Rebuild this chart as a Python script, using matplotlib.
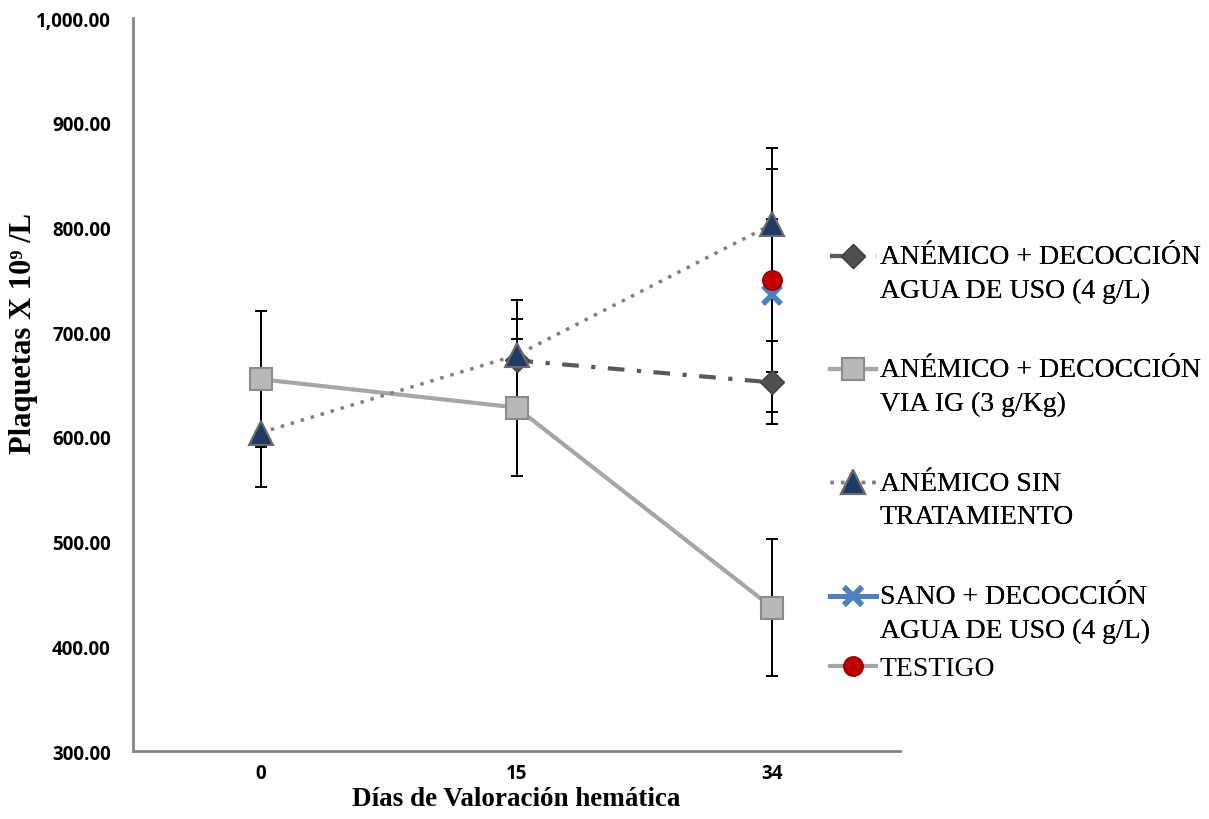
import numpy as np
import matplotlib
matplotlib.use("Agg")
import matplotlib.pyplot as plt
from matplotlib.ticker import FuncFormatter
from matplotlib.legend_handler import HandlerLine2D

# ---- data ----
days = ["0", "15", "34"]
anemico_agua = [np.nan, 673, 652]
anemico_agua_err = [0, 40, 40]
anemico_ig = [655, 628, 437]
anemico_ig_err = [65, 65, 65]
anemico_sin = [604, 678, 803]
anemico_sin_err = [52, 53, 53]
sano_agua = [np.nan, np.nan, 735]
sano_agua_err = [0, 0, 73]
testigo = [np.nan, np.nan, 750]
testigo_err = [0, 0, 126]

labels = [
    "ANÉMICO + DECOCCIÓN\nAGUA DE USO (4 g/L)",
    "ANÉMICO + DECOCCIÓN\nVIA IG (3 g/Kg)",
    "ANÉMICO SIN\nTRATAMIENTO",
    "SANO + DECOCCIÓN\nAGUA DE USO (4 g/L)",
    "TESTIGO",
]

x = np.arange(len(days))

fig = plt.figure(figsize=(12.09, 8.2), dpi=100)
ax = fig.add_axes([133/1209, 1-752/820, (900-133)/1209, (752-19)/820])

def eb(vals, errs):
    v = np.array(vals, float)
    e = np.array(errs, float)
    m = ~np.isnan(v) & (e > 0)
    ax.errorbar(x[m], v[m], yerr=e[m], fmt="none", ecolor="black",
                elinewidth=1.4, capsize=4.5, capthick=1.4, zorder=2)

for v, e in [(anemico_agua, anemico_agua_err), (anemico_ig, anemico_ig_err),
             (anemico_sin, anemico_sin_err), (sano_agua, sano_agua_err),
             (testigo, testigo_err)]:
    eb(v, e)

h1, = ax.plot(x, anemico_agua, color="#595959", lw=3, linestyle=(0, (4, 3, 1, 3)),
              marker="D", ms=12, mfc="#505050", mec="#404040", zorder=3, label=labels[0])
h2, = ax.plot(x, anemico_ig, color="#a6a6a6", lw=3, linestyle="-",
              marker="s", ms=16, mfc="#b8b8b8", mec="#8c8c8c", mew=1.5, zorder=4, label=labels[1])
h3, = ax.plot(x, anemico_sin, color="#808080", lw=2.5, linestyle=(0, (1, 2)),
              marker="^", ms=17, mfc="#1f3a64", mec="#6b6b6b", mew=1.5, zorder=5, label=labels[2])
h4, = ax.plot(x, sano_agua, color="#4f81bd", lw=3.5,
              marker="x", ms=13, mew=4, mec="#4f81bd", zorder=6, label=labels[3])
h5, = ax.plot(x, testigo, color="#a6a6a6", lw=3,
              marker="o", ms=14, mfc="#c00000", mec="#8b0000", mew=1, zorder=7, label=labels[4])

ax.set_xlim(-0.5, 2.5)
ax.set_ylim(300, 1000)
ax.set_yticks(np.arange(300, 1001, 100))
ax.yaxis.set_major_formatter(FuncFormatter(lambda v, p: f"{v:,.2f}"))
ax.set_xticks(x)
ax.set_xticklabels(days)

for s in ["top", "right"]:
    ax.spines[s].set_visible(False)
for s in ["left", "bottom"]:
    ax.spines[s].set_color("#868686")
    ax.spines[s].set_linewidth(2)
ax.tick_params(axis="both", length=0)
ax.tick_params(axis="y", pad=16)
ax.tick_params(axis="x", pad=9)
for t in ax.get_yticklabels() + ax.get_xticklabels():
    t.set_fontfamily("Open Sans")
    t.set_fontweight("bold")
    t.set_fontsize(13.5)

ax.set_xlabel("Días de Valoración hemática", fontfamily="Liberation Serif",
              fontweight="bold", fontsize=19.5)
ax.xaxis.set_label_coords(0.5, (752-800)/733)
ax.xaxis.label.set_va("center")
ax.set_ylabel("Plaquetas X 10⁹ /L", fontfamily="Liberation Serif",
              fontweight="bold", fontsize=22)
ax.yaxis.set_label_coords((24-133)/767, (752-333)/733)
ax.yaxis.label.set_va("center")


class FirstLineHandler(HandlerLine2D):
    def __init__(self, offset, **kw):
        super().__init__(**kw)
        self.offset = offset

    def create_artists(self, legend, orig_handle, xdescent, ydescent,
                       width, height, fontsize, trans):
        arts = super().create_artists(legend, orig_handle, xdescent, ydescent,
                                      width, height, fontsize, trans)
        for a in arts:
            yd = np.asarray(a.get_ydata(), float) + self.offset
            a.set_ydata(yd)
        return arts


off = 12.6
hmap = {h1: FirstLineHandler(off), h2: FirstLineHandler(off), h3: FirstLineHandler(off),
        h4: FirstLineHandler(off), h5: FirstLineHandler(0)}

common = dict(loc="upper left", frameon=False,
              prop={"family": "Liberation Serif", "size": 20},
              handlelength=1.65, handletextpad=0.15,
              borderaxespad=0, borderpad=0, handler_map=hmap)

leg1 = fig.legend(handles=[h1, h2, h3, h4], bbox_to_anchor=(830/1209, 1-245/820),
                  labelspacing=1.97, **common)
for t in leg1.get_texts():
    t.set_linespacing(1.445)
leg2 = fig.legend(handles=[h5], bbox_to_anchor=(830/1209, 1-657/820), **common)
fig.add_artist(leg1)

fig.savefig("out.png", dpi=100)
